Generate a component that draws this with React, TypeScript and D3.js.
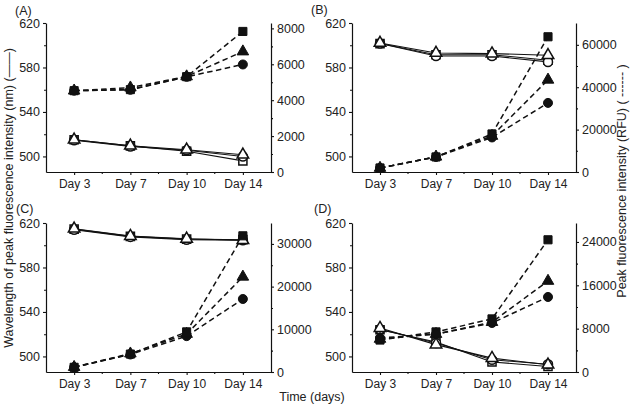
import React, { useEffect, useRef } from "react";
import * as d3 from "d3";

const days = ["Day 3", "Day 7", "Day 10", "Day 14"];
const waveTicks = [500, 540, 580, 620];
const waveMinor = [520, 560, 600];
const waveDomain = [486, 620];

// (A)
const aWaveSquare = [515, 509.5, 504.7, 496];
const aWaveCircle = [514.5, 509, 505.5, 500];
const aWaveTriangle = [515, 509.6, 506, 501.5];
const aRfuSquare = [4530, 4590, 5310, 7830];
const aRfuCircle = [4530, 4580, 5300, 5990];
const aRfuTriangle = [4530, 4700, 5320, 6710];
const aRfuTicks = [0, 2000, 4000, 6000, 8000];
const aRfuMinor = [1000, 3000, 5000, 7000];

// (B)
const bWaveSquare = [601.5, 591.5, 591.5, 586.5];
const bWaveCircle = [601.5, 590.3, 590.3, 585];
const bWaveTriangle = [602, 593, 592.5, 591];
const bRfuSquare = [1900, 7100, 17950, 63800];
const bRfuCircle = [1900, 7100, 16300, 32600];
const bRfuTriangle = [1900, 7200, 17000, 43500];
const bRfuTicks = [0, 20000, 40000, 60000];
const bRfuMinor = [10000, 30000, 50000];

// (C)
const cWaveSquare = [614.5, 608, 605.5, 605];
const cWaveCircle = [614, 607.5, 605, 604.5];
const cWaveTriangle = [614.8, 608.2, 605.8, 604.5];
const cRfuSquare = [1100, 4200, 9400, 31900];
const cRfuCircle = [1100, 4100, 8400, 17100];
const cRfuTriangle = [1150, 4300, 8900, 22300];
const cRfuTicks = [0, 10000, 20000, 30000];
const cRfuMinor = [5000, 15000, 25000];

// (D)
const dWaveSquare = [524, 513, 495, 491];
const dWaveCircle = [524.5, 512, 497, 493];
const dWaveTriangle = [525.5, 510.6, 498.5, 492.5];
const dRfuSquare = [5900, 7400, 9800, 24400];
const dRfuCircle = [6280, 7000, 9050, 13850];
const dRfuTriangle = [6100, 7000, 9200, 16800];
const dRfuTicks = [0, 8000, 16000, 24000];
const dRfuMinor = [4000, 12000, 20000];

const FONT = "'Liberation Sans', Arial, Helvetica, sans-serif";

const panels = [
  { label: "(A)", lx: 15, ly: 15, left: 46, right: 271, top: 23, bottom: 172, rfuMax: 8300,
    wave: [aWaveSquare, aWaveCircle, aWaveTriangle], rfu: [aRfuSquare, aRfuCircle, aRfuTriangle],
    ticks: aRfuTicks, minor: aRfuMinor },
  { label: "(B)", lx: 311, ly: 14, left: 352, right: 576, top: 23, bottom: 172, rfuMax: 70300,
    wave: [bWaveSquare, bWaveCircle, bWaveTriangle], rfu: [bRfuSquare, bRfuCircle, bRfuTriangle],
    ticks: bRfuTicks, minor: bRfuMinor },
  { label: "(C)", lx: 16, ly: 213, left: 46, right: 271, top: 223, bottom: 372, rfuMax: 34900,
    wave: [cWaveSquare, cWaveCircle, cWaveTriangle], rfu: [cRfuSquare, cRfuCircle, cRfuTriangle],
    ticks: cRfuTicks, minor: cRfuMinor },
  { label: "(D)", lx: 314, ly: 213, left: 352, right: 576, top: 223, bottom: 372, rfuMax: 27500,
    wave: [dWaveSquare, dWaveCircle, dWaveTriangle], rfu: [dRfuSquare, dRfuCircle, dRfuTriangle],
    ticks: dRfuTicks, minor: dRfuMinor },
];

// square, circle, triangle
const shapes = [
  d3.symbol().type(d3.symbolSquare).size(66),
  d3.symbol().type(d3.symbolCircle).size(64),
  d3.symbol().type(d3.symbolTriangle).size(58),
];

function styleAxis(g, size) {
  g.selectAll("path.domain").attr("stroke", "#111").attr("stroke-width", 1.2);
  g.selectAll(".tick line").attr("stroke", "#111").attr("stroke-width", 1.1);
  g.selectAll(".tick text").attr("fill", "#222").style("font-family", FONT).style("font-size", size);
}

function drawPanel(svg, p) {
  const g = svg.append("g");
  const x = d3.scalePoint().domain(days).range([p.left, p.right]).padding(0.5);
  const yL = d3.scaleLinear().domain(waveDomain).range([p.bottom, p.top]);
  const yR = d3.scaleLinear().domain([0, p.rfuMax]).range([p.bottom, p.top]);

  // axes
  g.append("g").attr("transform", `translate(${p.left},0)`)
    .call(d3.axisLeft(yL).tickValues(waveTicks).tickSize(3).tickPadding(3).tickSizeOuter(0))
    .call(styleAxis, "12.5px");
  g.append("g").attr("transform", `translate(${p.left},0)`)
    .call(d3.axisLeft(yL).tickValues(waveMinor).tickSize(2).tickFormat(() => ""))
    .call(styleAxis, "12px").select(".domain").remove();

  g.append("g").attr("transform", `translate(${p.right},0)`)
    .call(d3.axisRight(yR).tickValues(p.ticks).tickSize(3).tickPadding(3).tickSizeOuter(0).tickFormat(d3.format("d")))
    .call(styleAxis, "12.5px");
  g.append("g").attr("transform", `translate(${p.right},0)`)
    .call(d3.axisRight(yR).tickValues(p.minor).tickSize(2).tickFormat(() => ""))
    .call(styleAxis, "12px").select(".domain").remove();

  g.append("g").attr("transform", `translate(0,${p.bottom})`)
    .call(d3.axisBottom(x).tickSize(3).tickPadding(4).tickSizeOuter(0))
    .call(styleAxis, "12px");
  // minor ticks between days
  const mids = d3.pairs(days).map(([a, b]) => (x(a) + x(b)) / 2);
  g.append("g").selectAll("line").data(mids).join("line")
    .attr("x1", (d) => d).attr("x2", (d) => d)
    .attr("y1", p.bottom).attr("y2", p.bottom + 2)
    .attr("stroke", "#111").attr("stroke-width", 1.1);

  // panel letter
  g.append("text").attr("x", p.lx).attr("y", p.ly).text(p.label)
    .style("font-family", FONT).style("font-size", "12.5px").attr("fill", "#222");

  const waveLine = d3.line().x((d, i) => x(days[i])).y((d) => yL(d));
  const rfuLine = d3.line().x((d, i) => x(days[i])).y((d) => yR(d));

  // wavelength: solid lines, open markers
  p.wave.forEach((s) => {
    g.append("path").datum(s).attr("d", waveLine)
      .attr("fill", "none").attr("stroke", "#111").attr("stroke-width", 1.1);
  });
  // intensity: dashed lines, filled markers
  p.rfu.forEach((s) => {
    g.append("path").datum(s).attr("d", rfuLine)
      .attr("fill", "none").attr("stroke", "#111").attr("stroke-width", 1.5)
      .attr("stroke-dasharray", "5.5,3.5");
  });

  p.wave.forEach((s, k) => {
    g.append("g").selectAll("path").data(s).join("path")
      .attr("transform", (d, i) => `translate(${x(days[i])},${yL(d)})`)
      .attr("d", shapes[k])
      .attr("fill", "#fff").attr("stroke", "#111").attr("stroke-width", 1.5);
  });
  p.rfu.forEach((s, k) => {
    g.append("g").selectAll("path").data(s).join("path")
      .attr("transform", (d, i) => `translate(${x(days[i])},${yR(d)})`)
      .attr("d", shapes[k])
      .attr("fill", "#111").attr("stroke", "#111").attr("stroke-width", 1);
  });
}

export default function App() {
  const ref = useRef(null);

  useEffect(() => {
    const svg = d3.select(ref.current);
    svg.selectAll("*").remove();

    panels.forEach((p) => drawPanel(svg, p));

    // shared axis titles
    svg.append("text")
      .attr("transform", "translate(9,198) rotate(-90)")
      .attr("text-anchor", "middle").attr("dominant-baseline", "central")
      .style("font-family", FONT).style("font-size", "12.5px").attr("fill", "#222")
      .text("Wavelength of peak fluorescence intensity (nm) (\u2014\u2014)");

    svg.append("text")
      .attr("transform", "translate(622,181) rotate(-90)")
      .attr("text-anchor", "middle").attr("dominant-baseline", "central")
      .style("font-family", FONT).style("font-size", "12.5px").attr("fill", "#222")
      .text("Peak fluorescence intensity (RFU) ( ------ )");

    svg.append("text")
      .attr("x", 312).attr("y", 401).attr("text-anchor", "middle")
      .style("font-family", FONT).style("font-size", "12.5px").attr("fill", "#222")
      .text("Time (days)");
  }, []);

  return (
    <svg ref={ref} width={630} height={406}
      style={{ position: "absolute", left: 0, top: 0, background: "#fff" }} />
  );
}
